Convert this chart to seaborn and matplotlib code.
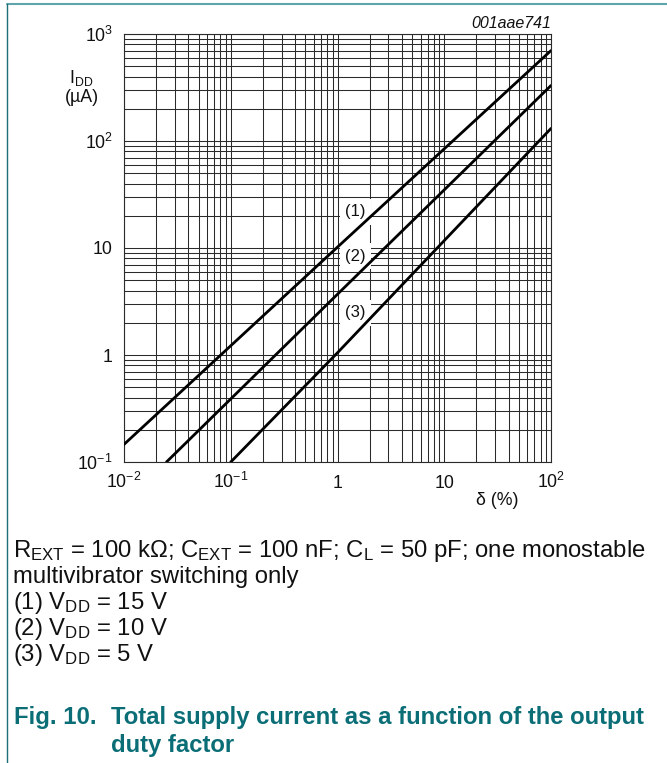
import numpy as np
import pandas as pd
import matplotlib
matplotlib.use("Agg")
import matplotlib.pyplot as plt
import seaborn as sns
from matplotlib.ticker import LogLocator, FixedLocator, FixedFormatter, NullFormatter

# ---- data ----
curve_names = ["(1)", "(2)", "(3)"]
x1 = [0.01, 1.0, 100.0]
y1 = [0.146, 10.2, 700.0]
x2 = [0.025, 1.0, 100.0]
y2 = [0.1, 3.7, 330.0]
x3 = [0.1, 1.0, 100.0]
y3 = [0.1, 1.05, 131.0]

xtick_vals = [0.01, 0.1, 1, 10, 100]
xtick_labels = [r"$10^{-2}$", r"$10^{-1}$", "1", "10", r"$10^{2}$"]
ytick_vals = [0.1, 1, 10, 100, 1000]
ytick_labels = [r"$10^{-1}$", "1", "10", r"$10^{2}$", r"$10^{3}$"]

label_x = [1.47, 1.47, 1.47]
label_y = [21.7, 8.4, 2.47]

sns.set_theme(style="white")
plt.rcParams["font.family"] = ["Liberation Sans", "DejaVu Sans"]
plt.rcParams["mathtext.fontset"] = "custom"
plt.rcParams["mathtext.rm"] = "Liberation Sans"
plt.rcParams["mathtext.it"] = "Liberation Sans:italic"
plt.rcParams["mathtext.bf"] = "Liberation Sans:bold"
plt.rcParams["mathtext.default"] = "regular"

df = pd.concat([
    pd.DataFrame({"x": x1, "y": y1, "curve": curve_names[0]}),
    pd.DataFrame({"x": x2, "y": y2, "curve": curve_names[1]}),
    pd.DataFrame({"x": x3, "y": y3, "curve": curve_names[2]}),
])

fig = plt.figure(figsize=(6.67, 7.63), dpi=100)
W, H = 667, 763
ax = fig.add_axes([124 / W, 1 - 462 / H, 427 / W, 428 / H])

ax.set_xscale("log")
ax.set_yscale("log")
ax.set_xlim(0.01, 100)
ax.set_ylim(0.1, 1000)

ax.xaxis.set_major_locator(FixedLocator(xtick_vals))
ax.xaxis.set_major_formatter(FixedFormatter(xtick_labels))
ax.yaxis.set_major_locator(FixedLocator(ytick_vals))
ax.yaxis.set_major_formatter(FixedFormatter(ytick_labels))
ax.xaxis.set_minor_locator(LogLocator(base=10, subs=np.arange(2, 10), numticks=20))
ax.yaxis.set_minor_locator(LogLocator(base=10, subs=np.arange(2, 10), numticks=20))
ax.xaxis.set_minor_formatter(NullFormatter())
ax.yaxis.set_minor_formatter(NullFormatter())

ax.grid(True, which="both", color="#2a2a2a", linewidth=0.75)
ax.set_axisbelow(True)
for s in ax.spines.values():
    s.set_color("#2a2a2a")
    s.set_linewidth(0.8)

ax.tick_params(which="both", length=0)
ax.tick_params(axis="x", pad=18.5, labelsize=12.8, colors="#111111")
ax.tick_params(axis="y", pad=8, labelsize=12.8, colors="#111111")

sns.lineplot(data=df, x="x", y="y", hue="curve", units="curve", estimator=None,
             palette=["black", "black", "black"], linewidth=2.0, legend=False,
             sort=True, ax=ax, zorder=3)
ax.set_xlabel("")
ax.set_ylabel("")
for lab in ax.get_xticklabels():
    lab.set_verticalalignment("baseline")

for lx, ly, name in zip(label_x, label_y, curve_names):
    ax.text(lx, ly, name, ha="center", va="center", fontsize=12, color="#111111",
            zorder=2.5, bbox=dict(facecolor="white", edgecolor="none", pad=4.0))

# axis labels
fig.text(81 / W, 1 - 78 / H, r"I$_{\mathregular{DD}}$", ha="center", va="center", fontsize=12.8, color="#111111")
fig.text(82 / W, 1 - 97 / H, "(µA)", ha="center", va="center", fontsize=12.8, color="#111111")
fig.text(497 / W, 1 - 500 / H, "δ (%)", ha="center", va="center", fontsize=12.8, color="#111111")
fig.text(551 / W, 1 - 23 / H, "001aae741", ha="right", va="center", fontsize=11.5,
         style="italic", color="#111111")

# frame lines
teal_light = "#5fa3ab"
teal_dark = "#1d6f78"
fig.add_artist(plt.Line2D([7 / W, 1], [1 - 4 / H, 1 - 4 / H], color=teal_light, lw=1.5))
fig.add_artist(plt.Line2D([7 / W, 7 / W], [0, 1 - 4 / H], color=teal_dark, lw=1.0))

# notes
note_fs = 17.2
notes = [
    r"R$_{\mathregular{EXT}}$ = 100 kΩ; C$_{\mathregular{EXT}}$ = 100 nF; C$_{\mathregular{L}}$ = 50 pF; one monostable",
    "multivibrator switching only",
    r"(1) V$_{\mathregular{DD}}$ = 15 V",
    r"(2) V$_{\mathregular{DD}}$ = 10 V",
    r"(3) V$_{\mathregular{DD}}$ = 5 V",
]
note_y = [548, 574, 600, 625, 651]
for t, yy in zip(notes, note_y):
    fig.text(13 / W, 1 - yy / H, t, ha="left", va="center_baseline", fontsize=note_fs,
             color="#111111")

cap_color = "#0b6e77"
fig.text(14 / W, 1 - 715 / H, "Fig. 10.", ha="left", va="center_baseline", fontsize=note_fs,
         color=cap_color, weight="bold")
fig.text(111 / W, 1 - 715 / H, "Total supply current as a function of the output", ha="left",
         va="center_baseline", fontsize=note_fs, color=cap_color, weight="bold")
fig.text(111 / W, 1 - 743 / H, "duty factor", ha="left", va="center_baseline", fontsize=note_fs,
         color=cap_color, weight="bold")

fig.savefig("out.png", dpi=100)
